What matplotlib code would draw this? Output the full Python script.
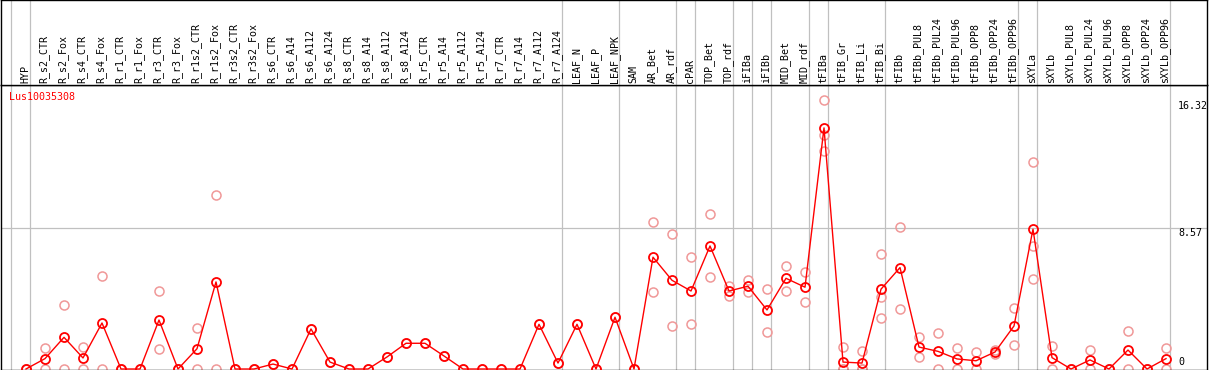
import matplotlib
matplotlib.use("Agg")
import matplotlib.pyplot as plt

# sample names, left to right
cats = ["HYP", "R_s2_CTR", "R_s2_Fox", "R_s4_CTR", "R_s4_Fox", "R_r1_CTR", "R_r1_Fox",
        "R_r3_CTR", "R_r3_Fox", "R_r1s2_CTR", "R_r1s2_Fox", "R_r3s2_CTR", "R_r3s2_Fox",
        "R_s6_CTR", "R_s6_A14", "R_s6_A112", "R_s6_A124", "R_s8_CTR", "R_s8_A14",
        "R_s8_A112", "R_s8_A124", "R_r5_CTR", "R_r5_A14", "R_r5_A112", "R_r5_A124",
        "R_r7_CTR", "R_r7_A14", "R_r7_A112", "R_r7_A124", "LEAF_N", "LEAF_P", "LEAF_NPK",
        "SAM", "AR_Bet", "AR_rdf", "cPAR", "TOP_Bet", "TOP_rdf", "iFIBa", "iFIBb",
        "MID_Bet", "MID_rdf", "tFIBa", "tFIB_Gr", "tFIB_Li", "tFIB_Bi", "tFIBb",
        "tFIBb_PUL8", "tFIBb_PUL24", "tFIBb_PUL96", "tFIBb_OPP8", "tFIBb_OPP24",
        "tFIBb_OPP96", "sXYLa", "sXYLb", "sXYLb_PUL8", "sXYLb_PUL24", "sXYLb_PUL96",
        "sXYLb_OPP8", "sXYLb_OPP24", "sXYLb_OPP96"]

# mean expression per sample
means = [0, 0.63, 1.92, 0.67, 2.79, 0, 0, 2.97, 0, 1.23, 5.28, 0, 0,
         0.30, 0, 2.43, 0.42, 0, 0, 0.73, 1.56, 1.56, 0.79, 0, 0, 0, 0, 2.71, 0.36,
         2.71, 0, 3.14, 0, 6.78, 5.38, 4.73, 7.46, 4.73, 5.02, 3.58, 5.50, 4.96,
         14.62, 0.42, 0.36, 4.84, 6.15, 1.33, 1.07, 0.61, 0.50, 1.03, 2.61,
         8.48, 0.69, 0, 0.55, 0, 1.15, 0, 0.63]

# individual replicates per sample
reps = [[0, 0], [1.25, 0], [3.88, 0], [1.33, 0], [5.62, 0], [0, 0], [0, 0],
        [4.73, 1.21], [0, 0], [2.49, 0], [10.54, 0], [0, 0], [0, 0],
        [0.30], [0], [2.43], [0.42], [0], [0], [0.73], [1.56], [1.56], [0.79],
        [0], [0], [0], [0], [2.71], [0.36], [2.71], [0], [3.14], [0],
        [8.90, 4.65], [8.17, 2.59], [6.78, 2.71], [9.39, 5.56], [5.04, 4.45],
        [5.38, 4.69], [4.84, 2.23], [6.25, 4.71], [5.89, 4.07],
        [16.32, 14.19, 13.24], [1.33, 0, 0], [1.07, 0, 0], [6.96, 4.39, 3.11],
        [8.60, 3.64], [1.92, 0.73], [2.18, 0], [1.25, 0], [1.01, 0], [1.13, 0.93],
        [3.68, 1.44], [12.54, 7.48, 5.44], [1.38, 0], [0, 0], [1.15, 0], [0, 0],
        [2.31, 0], [0, 0], [1.27, 0]]

# group boundaries: a separator follows these sample indices
group_ends = [-1, 0, 28, 31, 34, 35, 37, 38, 39, 41, 42, 45, 52, 53, 60]

yticks = [0, 8.57, 16.32]
gene = "Lus10035308"

W, H = 1209, 370
font = dict(family="DejaVu Sans Mono", size=7.2)
grid_c = "#c0c0c0"

fig = plt.figure(figsize=(W / 100, H / 100), dpi=100)
ax = fig.add_axes([1 / W, 0.5 / H, 1206 / W, 284.5 / H])
lab = fig.add_axes([1 / W, 285 / H, 1206 / W, 85 / H], sharex=ax)

x = list(range(len(cats)))
ax.set_xlim(-25 / 19, 1181 / 19)
ax.set_ylim(-0.03, 17.22)

for a in (ax, lab):
    for s in a.spines.values():
        s.set_color("black")
        s.set_linewidth(1)
    a.tick_params(left=False, bottom=False, labelleft=False, labelbottom=False)
    for g in group_ends:
        a.axvline(g + 0.23, color=grid_c, lw=0.9, zorder=0)
lab.set_ylim(0, 1)

ax.axhline(yticks[1], color=grid_c, lw=0.9, zorder=0)

# replicates
rx, ry = [], []
for i, r in enumerate(reps):
    for v in r:
        rx.append(i)
        ry.append(v)
ax.plot(rx, ry, ls="none", marker="o", ms=6.5, mfc="none", mec="#f09898", mew=1.1, zorder=2)

# means
ax.plot(x, means, color="red", lw=1, marker="o", ms=6.5, mfc="none", mec="red", mew=1.3, zorder=3)

# sample labels
for i, c in enumerate(cats):
    lab.text(i - 0.05, 2 / 85, c, rotation=90, ha="center", va="bottom", color="black", **font)

ax.text(8 / 1206, 1 - 12 / 284.5, gene, transform=ax.transAxes, ha="left", va="center",
        color="red", **font)

# value labels on the right
xl = (1178 - 26) / 19
ax.text(xl, yticks[2] - 0.1, "16.32", ha="left", va="top", **font)
ax.text(xl, yticks[1] - 0.05, "8.57", ha="left", va="top", **font)
ax.text(xl, yticks[0] + 0.15, "0", ha="left", va="bottom", **font)

fig.savefig("out.png", dpi=100)
